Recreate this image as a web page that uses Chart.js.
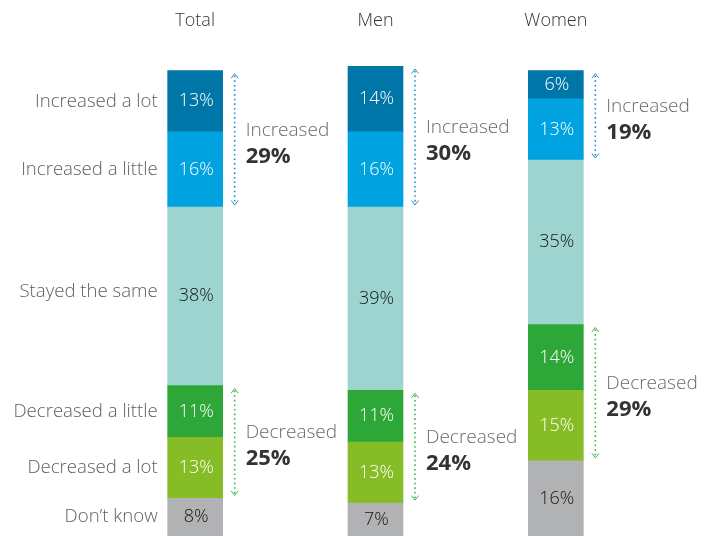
<!DOCTYPE html>
<html>
<head>
<meta charset="utf-8">
<script src="https://cdn.jsdelivr.net/npm/chart.js@4/dist/chart.umd.min.js"></script>
<style>
  html, body { margin: 0; padding: 0; background: #fff; }
  #wrap { position: relative; width: 713px; height: 536px; }
</style>
</head>
<body>
<div id="wrap"><canvas id="chart"></canvas></div>
<script>
const groups = ['Total', 'Men', 'Women'];
const responses = ['Increased a lot', 'Increased a little', 'Stayed the same', 'Decreased a little', 'Decreased a lot', 'Don’t know'];

const increasedLot = [13, 14, 6];
const increasedLittle = [16, 16, 13];
const stayedSame = [38, 39, 35];
const decreasedLittle = [11, 11, 14];
const decreasedLot = [13, 13, 15];
const dontKnow = [8, 7, 16];

const increasedTotal = [29, 30, 19];
const decreasedTotal = [25, 24, 29];

const FONT = '"Open Sans", "Noto Sans", sans-serif';

// bottom of the stack first
const series = [
    { label: responses[5], data: dontKnow, color: '#b1b2b4', text: '#151515' },
    { label: responses[4], data: decreasedLot, color: '#86bc25', text: '#fff' },
    { label: responses[3], data: decreasedLittle, color: '#2da838', text: '#fff' },
    { label: responses[2], data: stayedSame, color: '#9dd4cf', text: '#151515' },
    { label: responses[1], data: increasedLittle, color: '#00a3e0', text: '#fff' },
    { label: responses[0], data: increasedLot, color: '#0076a8', text: '#fff' }
];

function dottedArrow(ctx, x, y1, y2, color) {
    ctx.save();
    ctx.strokeStyle = color;
    ctx.lineWidth = 1.6;
    ctx.setLineDash([1.6, 3]);
    ctx.beginPath();
    ctx.moveTo(x, y1 + 2);
    ctx.lineTo(x, y2 - 2);
    ctx.stroke();
    ctx.setLineDash([]);
    ctx.lineWidth = 1;
    ctx.beginPath();
    ctx.moveTo(x - 3.5, y1 + 4.5);
    ctx.lineTo(x, y1);
    ctx.lineTo(x + 3.5, y1 + 4.5);
    ctx.moveTo(x - 3.5, y2 - 4.5);
    ctx.lineTo(x, y2);
    ctx.lineTo(x + 3.5, y2 - 4.5);
    ctx.stroke();
    ctx.restore();
}

function groupNote(ctx, x, yMid, word, value) {
    ctx.save();
    ctx.textAlign = 'left';
    ctx.textBaseline = 'middle';
    ctx.fillStyle = '#6a6a6a';
    ctx.font = '300 19px ' + FONT;
    ctx.fillText(word, x, yMid - 9);
    ctx.fillStyle = '#333';
    ctx.font = 'bold 22px ' + FONT;
    ctx.fillText(value + '%', x, yMid + 17);
    ctx.restore();
}

const annotations = {
    id: 'annotations',
    afterDatasetsDraw(chart) {
        const ctx = chart.ctx;
        const xScale = chart.scales.x;

        // group headers
        ctx.save();
        ctx.font = '300 18px ' + FONT;
        ctx.fillStyle = '#333';
        ctx.textAlign = 'center';
        ctx.textBaseline = 'middle';
        groups.forEach((g, i) => ctx.fillText(g, xScale.getPixelForValue(i), 21));
        ctx.restore();

        // values inside segments, response labels left of the first bar
        series.forEach((s, di) => {
            const meta = chart.getDatasetMeta(di);
            meta.data.forEach((bar, i) => {
                const yc = (bar.y + bar.base) / 2;
                ctx.save();
                ctx.font = '300 18px ' + FONT;
                ctx.fillStyle = s.text;
                ctx.textAlign = 'center';
                ctx.textBaseline = 'middle';
                ctx.fillText(s.data[i] + '%', bar.x + 1, yc);
                if (i === 0) {
                    ctx.font = '300 18.6px ' + FONT;
                    ctx.fillStyle = '#5e5e5e';
                    ctx.textAlign = 'right';
                    ctx.fillText(s.label, bar.x - bar.width / 2 - 10, yc - (di === 3 ? 5 : 0));
                }
                ctx.restore();
            });
        });

        // increased / decreased brackets
        const incTop = chart.getDatasetMeta(5), incBot = chart.getDatasetMeta(4);
        const decTop = chart.getDatasetMeta(2), decBot = chart.getDatasetMeta(1);
        groups.forEach((g, i) => {
            const bar = incTop.data[i];
            const ax = bar.x + bar.width / 2 + 12;
            const tx = ax + 11;

            let y1 = incTop.data[i].y + 3, y2 = incBot.data[i].base - 2;
            dottedArrow(ctx, ax, y1, y2, '#1f8fcf');
            groupNote(ctx, tx, (y1 + y2) / 2, 'Increased', increasedTotal[i]);

            y1 = decTop.data[i].y + 3;
            y2 = decBot.data[i].base - 3;
            dottedArrow(ctx, ax, y1, y2, '#3cb54a');
            groupNote(ctx, tx, (y1 + y2) / 2, 'Decreased', decreasedTotal[i]);
        });
    }
};

new Chart(document.getElementById('chart'), {
    type: 'bar',
    data: {
        labels: groups,
        datasets: series.map(s => ({
            label: s.label,
            data: s.data,
            backgroundColor: s.color,
            borderWidth: 0,
            barThickness: 55
        }))
    },
    options: {
        responsive: true,
        maintainAspectRatio: false,
        animation: false,
        layout: { padding: { left: 105, right: 67, top: 66, bottom: 0 } },
        plugins: { legend: { display: false }, tooltip: { enabled: false } },
        scales: {
            x: { stacked: true, display: false },
            y: { stacked: true, display: false, min: 0, max: 100 }
        }
    },
    plugins: [annotations]
});
</script>
</body>
</html>
